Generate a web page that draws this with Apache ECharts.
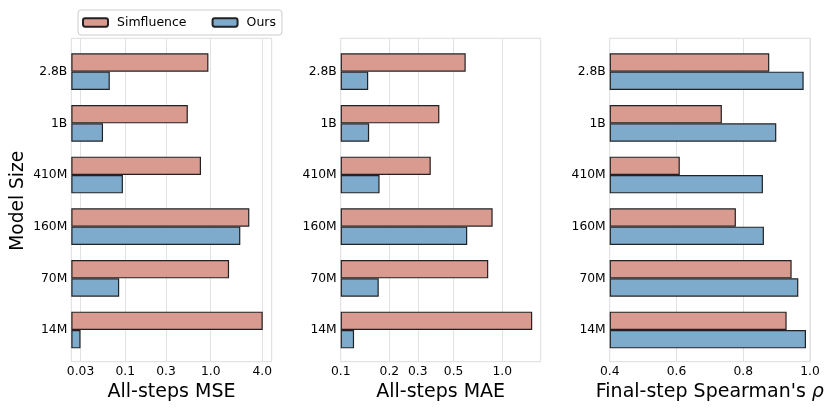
<!DOCTYPE html>
<html><head><meta charset="utf-8">
<script src="https://cdn.jsdelivr.net/npm/echarts@6/dist/echarts.min.js"></script>
<style>html,body{margin:0;padding:0;background:#fff}#c{width:830px;height:415px}</style>
</head><body><div id="c"></div>
<script>
const categories = ['2.8B','1B','410M','160M','70M','14M'];
const mseSimfluence = [0.94,0.54,0.77,2.83,1.64,4.06];
const mseOurs = [0.066,0.055,0.094,2.22,0.085,0.030];
const maeSimfluence = [0.594,0.408,0.361,0.872,0.819,1.533];
const maeOurs = [0.148,0.150,0.174,0.607,0.172,0.121];
const spearSimfluence = [0.878,0.736,0.610,0.778,0.945,0.930];
const spearOurs = [0.981,0.899,0.859,0.862,0.965,0.988];
const mseTicks = [0.03,0.1,0.3,1.0,4.0];
const mseTickLabels = ['0.03','0.1','0.3','1.0','4.0'];
const maeTicks = [0.1,0.2,0.3,0.5,1.0];
const maeTickLabels = ['0.1','0.2','0.3','0.5','1.0'];
const spearTicks = [0.4,0.6,0.8,1.0];
const spearTickLabels = ['0.4','0.6','0.8','1.0'];

const FONT = 'DejaVu Sans';
const SIM_COLOR = '#d99a90';
const OURS_COLOR = '#7eaacb';
const EDGE = '#222222';

const panels = [
  {left:71.3, width:200.4, type:'log', min:0.0234, max:5.17, ticks:mseTicks, labels:mseTickLabels, sim:mseSimfluence, ours:mseOurs, title:'All-steps MSE'},
  {left:340.7, width:200, type:'log', min:0.1, max:1.73, ticks:maeTicks, labels:maeTickLabels, sim:maeSimfluence, ours:maeOurs, title:'All-steps MAE'},
  {left:609.7, width:200.3, type:'value', min:0.4, max:1.0, interval:0.2, ticks:spearTicks, labels:spearTickLabels, sim:spearSimfluence, ours:spearOurs, title:"Final-step Spearman's {i|ρ}"}
];

const grid = [], xAxis = [], yAxis = [], series = [];
panels.forEach((p, k) => {
  const a = 2*k, b = 2*k + 1;
  grid.push({left:p.left, top:38.3, width:p.width, height:323.4, show:true, borderColor:'#dcdcdc', borderWidth:1});
  grid.push({left:p.left, top:45.83, width:p.width, height:310, show:false});
  const fmt = v => {
    for (let i = 0; i < p.ticks.length; i++) {
      if (Math.abs(v - p.ticks[i]) < 1e-6 * Math.max(1, p.ticks[i])) return p.labels[i];
    }
    return '';
  };
  const xa = {
    gridIndex:a, type:p.type, min:p.min, max:p.max,
    axisLine:{show:false},
    axisTick:{show:false, customValues:p.ticks},
    axisLabel:{customValues:p.ticks, formatter:fmt, fontFamily:FONT, fontSize:12.3, color:'#000', margin:4},
    splitLine:{show:true, lineStyle:{color:'#e2e2e2', width:1}},
    name:p.title, nameLocation:'middle', nameGap:16,
    nameTextStyle:{fontFamily:FONT, fontSize:19, color:'#000', rich:{i:{fontFamily:FONT, fontSize:19, fontStyle:'italic', color:'#000'}}}
  };
  if (p.interval) xa.interval = p.interval;
  xAxis.push(xa);
  xAxis.push({gridIndex:b, type:p.type, min:p.min, max:p.max, startValue:p.min, show:false});
  yAxis.push({gridIndex:a, type:'value', min:0, max:1, show:false});
  const ya = {
    gridIndex:b, type:'category', data:categories, inverse:true,
    axisLine:{show:false}, axisTick:{show:false}, splitLine:{show:false},
    axisLabel:{fontFamily:FONT, fontSize:12.3, color:'#000', margin:4}
  };
  if (k === 0) {
    Object.assign(ya, {name:'Model Size', nameLocation:'middle', nameGap:44, nameRotate:90,
      nameTextStyle:{fontFamily:FONT, fontSize:18.6, color:'#000'}});
  }
  yAxis.push(ya);
  series.push({type:'bar', name:'Simfluence', xAxisIndex:b, yAxisIndex:b, data:p.sim, barWidth:18.33, barGap:'0%',
    itemStyle:{color:SIM_COLOR, borderColor:EDGE, borderWidth:1.2}});
  series.push({type:'bar', name:'Ours', xAxisIndex:b, yAxisIndex:b, data:p.ours, barWidth:18.33, barGap:'0%',
    itemStyle:{color:OURS_COLOR, borderColor:EDGE, borderWidth:1.2}});
});

const chart = echarts.init(document.getElementById('c'), null, {renderer:'canvas'});
chart.setOption({
  animation:false,
  backgroundColor:'#fff',
  legend:{
    data:['Simfluence','Ours'], left:78, top:10, orient:'horizontal',
    itemWidth:25, itemHeight:8.3, itemGap:25, padding:[6,6,6,4],
    borderColor:'#cccccc', borderWidth:1, borderRadius:3,
    textStyle:{fontFamily:FONT, fontSize:12.5, color:'#000', padding:[0,0,0,4]}
  },
  grid, xAxis, yAxis, series
});
</script>
</body></html>
